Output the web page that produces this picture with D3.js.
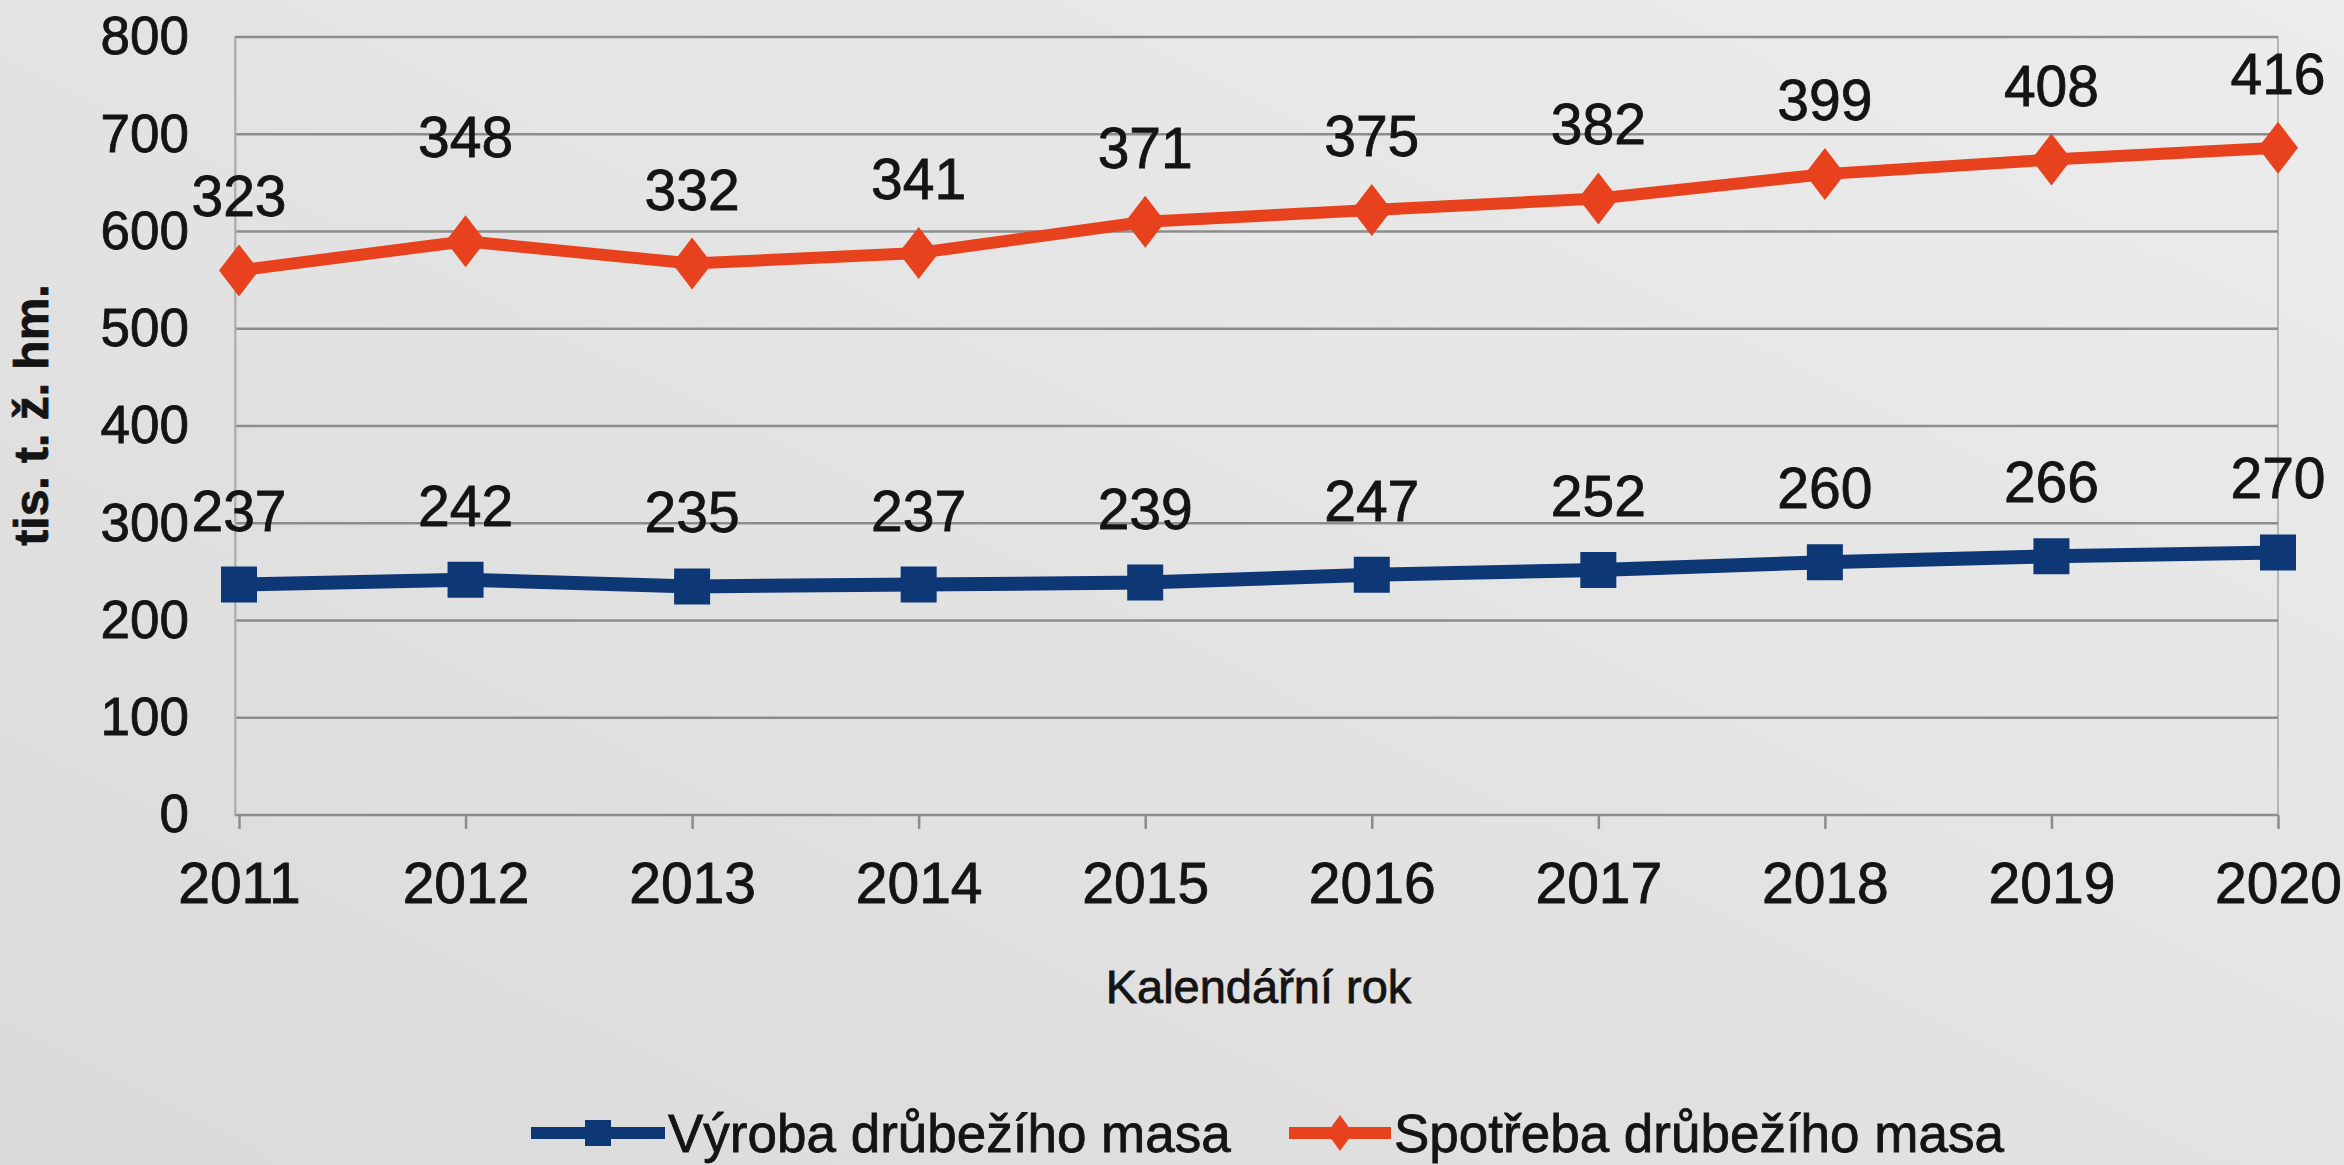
<!DOCTYPE html>
<html>
<head>
<meta charset="utf-8">
<script src="https://cdn.jsdelivr.net/npm/d3@7"></script>
<style>
  body { margin: 0; background: #e3e3e3; }
  svg { display: block; font-family: "Liberation Sans", Arial, sans-serif; }
</style>
</head>
<body>
<div id="chart"></div>
<script>
// data (the red line is stacked on top of the blue one)
const years = ["2011", "2012", "2013", "2014", "2015", "2016", "2017", "2018", "2019", "2020"];
const vyroba = [237, 242, 235, 237, 239, 247, 252, 260, 266, 270];
const spotreba = [323, 348, 332, 341, 371, 375, 382, 399, 408, 416];
const yTicks = [0, 100, 200, 300, 400, 500, 600, 700, 800];
const seriesNames = ["Výroba drůbežího masa", "Spotřeba drůbežího masa"];

const width = 2344;
const height = 1165;
const margin = {top: 37, right: 66, bottom: 350, left: 239};

const blue = "#0e3776";
const red = "#e8411d";
const ink = "#141414";

const svg = d3.select("#chart")
    .append("svg")
    .attr("width", width)
    .attr("height", height);

// soft light gradient like the photographed screen
const grad = svg.append("defs").append("linearGradient")
    .attr("id", "bg")
    .attr("x1", "0").attr("y1", "1").attr("x2", "1").attr("y2", "0");
grad.append("stop").attr("offset", "0").attr("stop-color", "#dadada");
grad.append("stop").attr("offset", "1").attr("stop-color", "#ececec");

svg.append("rect")
    .attr("width", width)
    .attr("height", height)
    .attr("fill", "url(#bg)");

const x = d3.scalePoint()
    .domain(years)
    .range([margin.left, width - margin.right]);

const y = d3.scaleLinear()
    .domain([0, 800])
    .range([height - margin.bottom, margin.top]);

// plot area border
svg.append("rect")
    .attr("x", margin.left - 4)
    .attr("y", y(800))
    .attr("width", width - margin.right - margin.left + 4)
    .attr("height", y(0) - y(800))
    .attr("fill", "none")
    .attr("stroke", "#b5b5b5")
    .attr("stroke-width", 2);

// horizontal gridlines
svg.append("g")
    .selectAll("line")
    .data(yTicks)
    .join("line")
      .attr("x1", margin.left - 4)
      .attr("x2", width - margin.right)
      .attr("y1", d => y(d))
      .attr("y2", d => y(d))
      .attr("stroke", "#8c8c8c")
      .attr("stroke-width", 2.5);

function styleText(sel, size) {
    sel.attr("font-size", size)
       .attr("fill", ink)
       .attr("stroke", ink)
       .attr("stroke-width", 0.8)
       .attr("font-family", "Liberation Sans, Arial, sans-serif");
}

// y axis
svg.append("g")
    .attr("transform", `translate(${margin.left - 4}, 0)`)
    .call(d3.axisLeft(y).tickValues(yTicks).tickSize(0).tickPadding(46))
    .call(g => g.select(".domain").attr("stroke", "#b0b0b0").attr("stroke-width", 2))
    .call(g => g.selectAll("text").call(styleText, "53px"));

// x axis
svg.append("g")
    .attr("transform", `translate(0, ${y(0)})`)
    .call(d3.axisBottom(x).tickSize(14).tickPadding(34))
    .call(g => g.select(".domain").remove())
    .call(g => g.selectAll("line").attr("stroke", "#8c8c8c").attr("stroke-width", 2.5))
    .call(g => g.selectAll("text").call(styleText, "57px"));

// axis titles
svg.append("text")
    .attr("x", (margin.left + width - margin.right) / 2)
    .attr("y", 1003)
    .attr("text-anchor", "middle")
    .call(styleText, "47px")
    .text("Kalendářní rok");

svg.append("text")
    .attr("transform", `translate(48, 415) rotate(-90)`)
    .attr("text-anchor", "middle")
    .attr("font-weight", "bold")
    .call(styleText, "48px")
    .text("tis. t. ž. hm.");

// stacked series
const stacked = years.map((yr, i) => ({year: yr, v: vyroba[i], s: spotreba[i], top: vyroba[i] + spotreba[i]}));

const line = d3.line();

svg.append("path")
    .attr("d", line(stacked.map(d => [x(d.year), y(d.v)])))
    .attr("fill", "none")
    .attr("stroke", blue)
    .attr("stroke-width", 14)
    .attr("stroke-linejoin", "round");

svg.append("path")
    .attr("d", line(stacked.map(d => [x(d.year), y(d.top)])))
    .attr("fill", "none")
    .attr("stroke", red)
    .attr("stroke-width", 12)
    .attr("stroke-linejoin", "round");

// diamond a bit wider than d3's default one
function diamondPath(hw, hh) {
    return `M0,${-hh}L${hw},0L0,${hh}L${-hw},0Z`;
}
function squarePath(h) {
    return `M${-h},${-h}H${h}V${h}H${-h}Z`;
}

svg.append("g")
    .selectAll("path")
    .data(stacked)
    .join("path")
      .attr("transform", d => `translate(${x(d.year)}, ${y(d.v)})`)
      .attr("d", squarePath(18))
      .attr("fill", blue);

svg.append("g")
    .selectAll("path")
    .data(stacked)
    .join("path")
      .attr("transform", d => `translate(${x(d.year)}, ${y(d.top)})`)
      .attr("d", diamondPath(20, 26))
      .attr("fill", red);

// data labels, above each point (2012 label sits higher in the original)
const labelLift = {"2012": 30};

svg.append("g")
    .selectAll("text")
    .data(stacked)
    .join("text")
      .attr("x", d => x(d.year))
      .attr("y", d => y(d.v) - 54)
      .attr("text-anchor", "middle")
      .call(styleText, "57px")
      .text(d => d.v);

svg.append("g")
    .selectAll("text")
    .data(stacked)
    .join("text")
      .attr("x", d => x(d.year))
      .attr("y", d => y(d.top) - 54 - (labelLift[d.year] || 0))
      .attr("text-anchor", "middle")
      .call(styleText, "57px")
      .text(d => d.s);

// legend
const legend = [
    {name: seriesNames[0], color: blue, marker: squarePath(13), x: 531, len: 134},
    {name: seriesNames[1], color: red, marker: diamondPath(13, 18), x: 1289, len: 102}
];
const ly = 1133;

const lg = svg.append("g")
    .selectAll("g")
    .data(legend)
    .join("g")
      .attr("transform", d => `translate(${d.x}, ${ly})`);

lg.append("line")
    .attr("x1", 0)
    .attr("x2", d => d.len)
    .attr("stroke", d => d.color)
    .attr("stroke-width", 12);

lg.append("path")
    .attr("transform", d => `translate(${d.len / 2}, 0)`)
    .attr("d", d => d.marker)
    .attr("fill", d => d.color);

lg.append("text")
    .attr("x", d => d.len + 3)
    .attr("y", 19)
    .call(styleText, "53px")
    .text(d => d.name);
</script>
</body>
</html>
